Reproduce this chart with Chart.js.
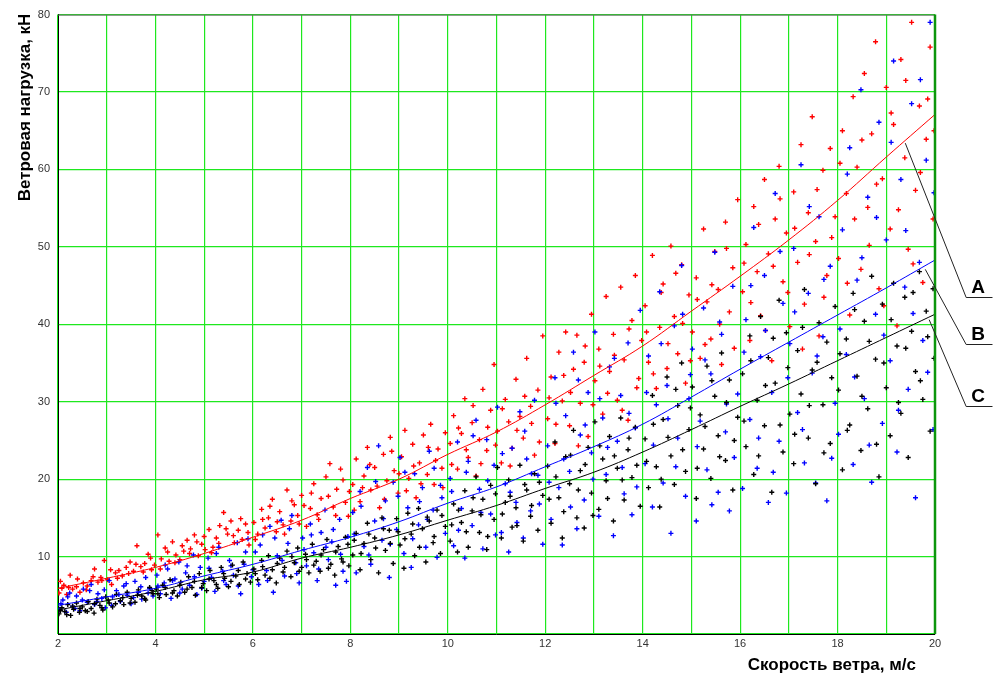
<!DOCTYPE html>
<html>
<head>
<meta charset="utf-8">
<script src="https://cdn.jsdelivr.net/npm/chart.js@4.4.0/dist/chart.umd.min.js"></script>
<style>
  html, body { margin: 0; padding: 0; background: #fff; }
</style>
</head>
<body>
<canvas id="Chart" width="994" height="679"></canvas>
<script>
// axis titles
var xTitle = "Скорость ветра, м/с";
var yTitle = "Ветровая нагрузка, кН";

// fitted curves A, B, C read at every integer wind speed
var curveX = [2,3,4,5,6,7,8,9,10,11,12,13,14,15,16,17,18,19,20];
var curveA = [5.9,7.2,8.6,10.4,12.5,14.7,17.5,20.0,23.2,26.1,29.6,33.4,37.2,41.7,46.2,50.9,56.0,61.6,67.1];
var curveB = [3.7,4.8,5.9,7.5,9.0,10.8,12.5,14.5,16.9,19.0,21.6,24.2,27.1,30.6,34.2,37.7,41.2,44.7,48.3];
var curveC = [3.1,4.3,5.5,7.0,8.0,9.8,11.2,12.8,14.7,16.6,18.8,20.9,23.5,26.4,29.4,32.3,35.3,38.3,41.3];

// measured points [speed, load]
var pointsA = [
  [2.02,5.3],[2.08,5.9],[2.12,6.3],[2.18,5.1],[2.25,7.6],[2.3,5.8],[2.38,6.1],[2.45,5.4],[2.52,6.6],[2.6,6.2],[2.68,6.9],[2.75,8.4],[2.82,6.7],[2.88,7.3],[2.95,9.5],[3.02,7.0],[3.1,6.4],[3.18,7.9],[3.25,8.2],[3.32,7.5],[3.4,8.6],[3.48,9.3],[3.55,8.1],[3.62,11.4],[3.7,8.7],[3.78,9.1],[3.85,10.3],[3.92,8.3],[3.98,8.9],
  [4.05,12.8],[4.12,9.7],[4.2,11.1],[4.28,9.4],[4.35,11.9],[4.42,10.2],[4.5,9.6],[4.58,10.7],[4.65,12.1],[4.72,11.0],[4.8,12.8],[4.88,10.1],[4.95,11.6],[5.02,10.9],[5.1,13.5],[5.18,11.2],[5.25,12.4],[5.32,14.0],[5.4,15.7],[5.48,12.9],[5.55,14.6],[5.62,11.8],[5.7,13.4],[5.78,12.2],[5.85,14.2],[5.92,11.5],
  [6.02,14.4],[6.1,12.9],[6.18,16.1],[6.25,13.7],[6.32,15.0],[6.4,17.4],[6.48,13.2],[6.55,15.8],[6.62,14.1],[6.7,18.6],[6.78,14.6],[6.85,16.7],[6.92,15.3],[7.0,17.9],[7.1,13.9],[7.18,16.2],[7.25,19.4],[7.32,15.4],[7.4,17.5],[7.5,20.3],[7.58,22.0],[7.65,16.4],[7.72,18.7],[7.8,21.3],[7.9,17.0],[7.96,15.2],
  [8.05,19.3],[8.12,22.6],[8.2,17.1],[8.28,20.4],[8.35,24.1],[8.42,18.6],[8.5,21.5],[8.6,16.3],[8.68,23.2],[8.75,19.8],[8.82,25.4],[8.9,21.1],[8.98,18.2],[9.05,22.9],[9.12,26.3],[9.2,20.1],[9.28,24.5],[9.35,17.6],[9.42,22.1],[9.5,25.7],[9.58,20.6],[9.65,27.1],[9.72,19.3],[9.8,23.9],[9.88,21.4],[9.95,26.0],
  [10.05,24.6],[10.12,28.2],[10.2,21.3],[10.28,25.9],[10.35,30.4],[10.42,22.8],[10.5,27.3],[10.58,20.4],[10.65,25.1],[10.72,31.6],[10.8,23.7],[10.88,28.9],[10.95,34.8],[11.02,26.2],[11.1,22.1],[11.18,30.3],[11.25,27.4],[11.32,24.0],[11.4,32.9],[11.48,28.1],[11.55,25.3],[11.62,35.6],[11.7,29.4],[11.78,23.1],[11.85,31.5],[11.95,38.5],
  [12.05,27.8],[12.12,33.2],[12.2,24.6],[12.28,36.4],[12.35,30.1],[12.42,39.0],[12.5,26.9],[12.58,34.2],[12.65,38.6],[12.72,29.8],[12.8,35.1],[12.88,25.5],[12.95,41.3],[13.02,32.7],[13.1,36.8],[13.18,28.4],[13.25,43.6],[13.32,33.9],[13.4,38.7],[13.48,30.2],[13.55,44.8],[13.62,35.4],[13.7,27.6],[13.78,40.5],[13.85,46.3],[13.92,33.0],[13.98,37.9],
  [14.05,42.4],[14.12,35.1],[14.2,48.9],[14.28,31.7],[14.35,39.6],[14.42,45.2],[14.5,34.3],[14.58,50.1],[14.65,41.0],[14.72,36.2],[14.8,47.7],[14.88,32.4],[14.95,43.8],[15.02,39.0],[15.1,46.0],[15.18,35.6],[15.25,52.3],[15.32,42.9],[15.4,38.1],[15.48,49.4],[15.55,44.5],[15.62,34.8],[15.7,53.2],[15.78,41.6],[15.85,47.3],[15.95,56.1],
  [16.05,44.2],[16.12,50.3],[16.2,37.9],[16.28,55.2],[16.35,46.8],[16.42,41.1],[16.5,58.7],[16.58,49.1],[16.65,35.3],[16.72,53.6],[16.8,60.4],[16.88,45.5],[16.95,51.8],[17.02,39.7],[17.1,57.1],[17.18,48.0],[17.25,63.2],[17.32,42.6],[17.4,54.4],[17.48,66.8],[17.55,50.7],[17.62,38.5],[17.7,59.9],[17.78,46.3],[17.85,62.7],[17.95,53.9],
  [18.02,48.5],[18.1,65.0],[18.18,56.9],[18.25,41.2],[18.32,69.4],[18.4,60.3],[18.48,47.1],[18.55,72.4],[18.62,55.1],[18.7,64.6],[18.78,76.5],[18.85,44.6],[18.92,58.8],[19.0,70.6],[19.08,52.3],[19.15,65.8],[19.22,39.8],[19.3,74.2],[19.38,61.5],[19.45,49.7],[19.52,79.0],[19.6,57.3],[19.68,68.2],[19.75,45.4],[19.82,63.9],[19.9,75.8],[19.96,53.6]
];
var pointsA2 = [
  [2.05,6.8],[2.22,6.0],[2.4,7.1],[2.58,5.7],[2.72,7.4],[2.9,6.9],[3.08,8.3],[3.22,7.2],[3.45,7.8],[3.6,9.0],[3.75,8.0],[3.9,9.8],
  [4.1,8.4],[4.25,10.6],[4.4,9.2],[4.55,11.4],[4.7,10.4],[4.85,11.9],[5.0,12.6],[5.15,10.5],[5.3,11.7],[5.45,13.6],[5.6,12.7],[5.75,14.9],[5.9,13.1],
  [6.05,12.2],[6.2,14.8],[6.35,16.5],[6.5,14.5],[6.65,12.9],[6.8,17.2],[6.95,14.2],[7.05,16.6],[7.2,18.2],[7.35,14.8],[7.55,17.8],[7.7,15.3],[7.85,19.9],[7.98,18.4],
  [8.08,16.0],[8.25,18.9],[8.4,21.9],[8.55,19.1],[8.7,17.4],[8.85,23.6],[9.0,20.7],[9.15,18.5],[9.3,21.7],[9.45,19.4],[9.6,24.1],[9.75,22.4],[9.9,18.9],
  [10.08,21.9],[10.22,26.6],[10.38,23.8],[10.52,29.5],[10.68,22.0],[10.82,26.7],[10.98,24.4],[11.12,29.1],[11.28,21.7],[11.42,26.3],[11.58,30.7],[11.72,27.2],[11.88,24.8],
  [12.08,30.5],[12.22,27.1],[12.38,33.4],[12.52,31.2],[12.68,24.3],[12.82,37.2],[12.98,29.6],[13.12,34.6],[13.28,31.1],[13.42,36.0],[13.58,28.9],[13.72,39.4],[13.88,31.8],
  [14.08,39.0],[14.22,33.6],[14.38,44.1],[14.52,37.5],[14.68,46.6],[14.82,40.1],[14.98,35.3],[15.12,43.2],[15.28,37.4],[15.42,45.1],[15.58,40.0],[15.72,49.8],[15.88,36.9],
  [16.08,47.9],[16.22,42.8],[16.38,52.9],[16.52,39.2],[16.68,47.5],[16.82,56.2],[16.98,44.1],[17.12,52.4],[17.28,36.8],[17.42,49.0],[17.58,57.4],[17.72,43.5],[17.88,51.2],
  [18.05,60.8],[18.2,45.3],[18.35,53.6],[18.5,63.8],[18.65,50.2],[18.8,58.1],[18.95,42.4],[19.1,67.3],[19.25,54.8],[19.4,71.5],[19.55,47.8],[19.7,59.6],[19.85,69.1],[19.98,65.0]
];
var pointsB = [
  [2.03,3.2],[2.1,4.4],[2.17,2.8],[2.24,5.3],[2.3,3.6],[2.38,4.9],[2.45,3.0],[2.52,5.8],[2.6,4.1],[2.68,6.4],[2.75,3.8],[2.82,5.2],[2.9,4.6],[2.97,3.4],[3.05,6.9],[3.12,4.8],[3.2,5.6],[3.28,4.2],[3.35,6.2],[3.42,5.0],[3.5,3.9],[3.58,6.8],[3.65,5.4],[3.72,4.5],[3.8,7.3],[3.88,5.9],[3.95,4.9],
  [4.03,7.6],[4.1,5.2],[4.18,6.6],[4.25,8.4],[4.32,4.6],[4.4,7.1],[4.48,9.3],[4.55,5.8],[4.62,7.9],[4.7,6.3],[4.78,10.2],[4.85,5.1],[4.92,8.6],[5.0,6.8],[5.08,9.8],[5.15,7.3],[5.22,5.5],[5.3,11.2],[5.38,8.1],[5.45,6.4],[5.52,9.5],[5.6,7.6],[5.68,11.8],[5.75,5.2],[5.82,9.0],[5.9,12.3],[5.97,7.4],
  [6.05,10.6],[6.12,6.4],[6.2,12.8],[6.28,8.2],[6.35,13.9],[6.42,5.4],[6.5,10.1],[6.58,14.7],[6.65,7.5],[6.72,11.7],[6.8,15.3],[6.88,9.2],[6.95,6.6],[7.02,12.4],[7.1,8.8],[7.18,14.2],[7.25,10.5],[7.32,6.9],[7.4,13.1],[7.48,16.0],[7.55,9.6],[7.62,11.9],[7.7,6.3],[7.78,14.8],[7.85,8.1],[7.95,12.6],
  [8.05,15.7],[8.12,7.9],[8.2,18.4],[8.28,11.3],[8.35,21.5],[8.42,9.0],[8.5,14.6],[8.58,24.3],[8.65,12.1],[8.72,17.2],[8.8,7.3],[8.88,19.6],[8.95,13.5],[9.02,22.8],[9.1,10.4],[9.18,16.3],[9.25,8.6],[9.32,20.7],[9.4,14.1],[9.48,18.9],[9.55,11.2],[9.62,23.6],[9.7,16.0],[9.78,9.9],[9.85,19.2],[9.95,13.0],
  [10.05,20.1],[10.12,11.4],[10.2,24.8],[10.28,16.2],[10.35,9.8],[10.42,22.3],[10.5,14.0],[10.58,27.6],[10.65,18.7],[10.72,11.0],[10.8,25.1],[10.88,15.5],[10.95,21.8],[11.02,29.3],[11.1,13.1],[11.18,19.4],[11.25,10.6],[11.32,24.0],[11.4,17.0],[11.48,28.7],[11.55,12.4],[11.62,22.6],[11.7,15.9],[11.78,30.2],[11.85,20.5],[11.95,11.6],
  [12.05,24.3],[12.12,14.8],[12.2,33.1],[12.28,18.9],[12.35,11.5],[12.42,28.2],[12.5,21.0],[12.58,36.4],[12.65,13.6],[12.72,25.7],[12.8,17.3],[12.88,31.2],[12.95,23.4],[13.02,39.0],[13.1,15.2],[13.18,27.9],[13.25,20.6],[13.32,34.5],[13.4,12.7],[13.48,24.9],[13.55,30.8],[13.62,18.1],[13.7,37.6],[13.78,15.4],[13.85,26.6],[13.95,41.8],
  [14.05,22.0],[14.12,35.9],[14.2,16.4],[14.28,29.6],[14.35,44.2],[14.42,19.5],[14.5,32.1],[14.58,13.0],[14.65,39.8],[14.72,25.3],[14.8,47.6],[14.88,17.8],[14.95,30.4],[15.02,36.8],[15.1,14.6],[15.18,27.5],[15.25,42.1],[15.32,21.2],[15.4,33.6],[15.48,49.3],[15.55,18.3],[15.62,38.7],[15.7,26.1],[15.78,15.9],[15.85,44.9],[15.95,31.0],
  [16.05,18.8],[16.12,40.6],[16.2,27.7],[16.28,52.5],[16.35,21.4],[16.42,35.8],[16.5,46.3],[16.58,17.0],[16.65,31.2],[16.72,56.9],[16.8,24.9],[16.88,42.7],[16.95,18.2],[17.02,37.5],[17.1,49.8],[17.18,28.6],[17.25,60.6],[17.32,22.1],[17.4,44.0],[17.48,33.7],[17.55,19.5],[17.62,53.9],[17.7,38.4],[17.78,17.2],[17.85,47.5],[17.95,29.8],
  [18.02,25.8],[18.1,52.2],[18.18,36.1],[18.25,62.8],[18.32,21.9],[18.4,45.7],[18.48,70.3],[18.55,30.4],[18.62,56.4],[18.7,19.6],[18.78,41.3],[18.85,66.1],[18.92,27.2],[19.0,50.9],[19.08,35.3],[19.15,74.0],[19.22,23.5],[19.3,58.7],[19.38,44.8],[19.45,31.6],[19.52,68.5],[19.6,17.6],[19.68,48.0],[19.75,37.9],[19.82,61.2],[19.9,79.0],[19.96,26.4]
];
var pointsB2 = [
  [2.06,3.9],[2.2,4.8],[2.35,3.3],[2.5,4.4],[2.65,5.6],[2.8,4.2],[2.95,5.7],[3.1,3.7],[3.25,5.1],[3.4,6.5],[3.55,4.7],[3.7,6.1],[3.85,5.3],
  [4.05,6.2],[4.2,8.9],[4.35,6.9],[4.5,5.3],[4.65,8.8],[4.8,7.4],[4.95,5.9],[5.1,8.5],[5.25,10.4],[5.4,6.9],[5.55,8.8],[5.7,6.2],[5.85,10.6],
  [6.0,8.3],[6.15,11.5],[6.3,6.9],[6.45,12.4],[6.6,9.5],[6.75,13.6],[6.9,7.8],[7.05,10.9],[7.2,12.8],[7.35,8.4],[7.5,11.2],[7.65,13.5],[7.8,10.3],[7.92,6.8],
  [8.08,12.9],[8.22,16.5],[8.38,10.2],[8.52,19.7],[8.68,14.9],[8.82,11.6],[8.98,17.8],[9.12,20.9],[9.28,12.3],[9.42,17.1],[9.58,14.8],[9.72,21.4],[9.88,17.6],
  [10.08,18.4],[10.22,13.4],[10.38,20.9],[10.52,25.6],[10.68,15.7],[10.82,19.8],[10.98,12.8],[11.12,23.3],[11.28,18.3],[11.42,14.4],[11.58,26.2],[11.72,20.7],[11.88,16.8],
  [12.08,19.6],[12.22,29.8],[12.38,22.6],[12.52,16.4],[12.68,32.8],[12.82,27.0],[12.98,20.0],[13.12,30.4],[13.28,24.1],[13.42,35.6],[13.58,21.5],[13.72,28.5],[13.88,19.0],
  [14.08,31.2],[14.22,24.4],[14.38,37.5],[14.52,27.8],[14.68,21.6],[14.82,41.3],[14.98,33.5],[15.12,24.2],[15.28,35.4],[15.42,16.7],[15.58,40.3],[15.72,29.7],[15.88,22.8],
  [16.08,36.4],[16.22,45.0],[16.38,25.3],[16.52,39.2],[16.68,20.9],[16.82,49.4],[16.98,33.1],[17.12,41.6],[17.28,26.4],[17.42,55.2],[17.58,35.9],[17.72,45.8],[17.88,22.7],
  [18.05,39.4],[18.2,59.4],[18.35,33.2],[18.5,48.6],[18.65,24.4],[18.8,53.8],[18.95,38.6],[19.1,63.5],[19.25,28.9],[19.4,52.1],[19.55,41.4],[19.7,71.6],[19.85,33.8],[19.98,57.0]
];
var pointsC = [
  [2.02,2.6],[2.08,3.4],[2.14,2.9],[2.2,3.8],[2.26,2.4],[2.32,3.2],[2.38,4.0],[2.44,2.8],[2.5,3.5],[2.56,3.0],[2.62,4.2],[2.68,3.3],[2.74,2.7],[2.8,4.5],[2.86,3.7],[2.92,3.1],[2.98,4.8],[3.05,4.0],[3.12,3.5],[3.2,5.1],[3.28,4.3],[3.35,3.8],[3.42,5.4],[3.5,4.6],[3.58,4.1],[3.65,5.7],[3.72,4.9],[3.8,4.4],[3.88,6.0],[3.95,5.2],
  [4.02,5.8],[4.08,4.7],[4.15,6.3],[4.22,5.1],[4.3,7.0],[4.38,5.6],[4.45,4.9],[4.52,6.7],[4.6,5.4],[4.68,7.4],[4.75,6.0],[4.82,5.0],[4.9,7.8],[4.98,6.5],[5.05,5.6],[5.12,8.2],[5.2,6.9],[5.28,5.9],[5.35,8.6],[5.42,7.2],[5.5,6.1],[5.58,8.9],[5.65,7.5],[5.72,6.4],[5.8,9.3],[5.88,7.8],[5.95,6.7],
  [6.02,8.4],[6.1,7.0],[6.18,9.5],[6.25,7.6],[6.32,10.1],[6.4,8.3],[6.48,6.6],[6.55,9.8],[6.62,8.0],[6.7,10.7],[6.78,7.4],[6.85,9.2],[6.92,11.1],[7.0,8.6],[7.08,10.3],[7.15,7.9],[7.22,11.6],[7.3,9.4],[7.38,8.1],[7.45,10.9],[7.52,12.2],[7.6,9.0],[7.68,7.6],[7.75,11.3],[7.82,9.7],[7.9,12.5],[7.97,8.8],
  [8.05,10.2],[8.12,13.0],[8.2,8.3],[8.28,11.7],[8.35,14.3],[8.42,9.6],[8.5,12.4],[8.58,7.9],[8.65,15.0],[8.72,10.8],[8.8,13.4],[8.88,9.1],[8.95,14.9],[9.02,11.5],[9.1,8.5],[9.18,15.6],[9.25,12.9],[9.32,10.1],[9.4,16.2],[9.48,13.6],[9.55,9.3],[9.62,14.6],[9.7,11.8],[9.78,16.0],[9.85,10.4],[9.95,13.9],
  [10.05,12.0],[10.12,16.8],[10.2,10.6],[10.28,14.4],[10.35,18.5],[10.42,11.2],[10.5,15.9],[10.58,20.3],[10.65,13.1],[10.72,17.4],[10.8,10.9],[10.88,19.2],[10.95,14.8],[11.02,21.5],[11.1,12.4],[11.18,17.0],[11.25,19.9],[11.32,13.8],[11.4,16.3],[11.48,21.8],[11.55,12.0],[11.62,18.6],[11.7,15.2],[11.78,20.7],[11.85,13.4],[11.95,17.9],
  [12.05,21.7],[12.12,14.3],[12.2,24.8],[12.28,17.6],[12.35,12.4],[12.42,22.9],[12.5,19.4],[12.58,26.3],[12.65,15.0],[12.72,21.1],[12.8,13.7],[12.88,24.1],[12.95,18.2],[13.02,27.4],[13.1,16.1],[13.18,22.6],[13.25,19.8],[13.32,25.5],[13.4,14.6],[13.48,21.4],[13.55,27.9],[13.62,17.3],[13.7,23.8],[13.78,20.2],[13.85,26.7],[13.95,16.5],
  [14.05,25.2],[14.12,18.9],[14.2,30.8],[14.28,21.6],[14.35,16.4],[14.42,27.7],[14.5,33.2],[14.58,23.0],[14.65,19.3],[14.72,29.5],[14.8,35.0],[14.88,21.0],[14.95,26.4],[15.02,31.9],[15.1,17.5],[15.18,28.3],[15.25,23.9],[15.32,34.6],[15.4,20.1],[15.48,30.7],[15.55,25.6],[15.62,36.3],[15.7,22.4],[15.78,32.8],[15.85,18.6],[15.95,28.0],
  [16.05,33.6],[16.12,24.2],[16.2,38.5],[16.28,20.6],[16.35,30.2],[16.42,41.0],[16.5,26.9],[16.58,35.7],[16.65,18.3],[16.72,32.4],[16.8,43.1],[16.88,23.5],[16.95,38.9],[17.02,28.4],[17.1,22.0],[17.18,36.6],[17.25,31.0],[17.32,44.5],[17.4,25.3],[17.48,34.1],[17.55,19.4],[17.62,40.2],[17.7,29.6],[17.78,37.7],[17.85,24.6],[17.95,42.3],
  [18.02,31.5],[18.1,21.2],[18.18,38.1],[18.25,27.0],[18.32,44.0],[18.4,33.3],[18.48,23.7],[18.55,40.4],[18.62,29.1],[18.7,46.2],[18.78,35.5],[18.85,20.3],[18.92,42.6],[19.0,31.8],[19.08,25.6],[19.15,45.3],[19.22,37.2],[19.3,28.5],[19.38,43.5],[19.45,22.8],[19.52,39.1],[19.6,33.9],[19.68,46.8],[19.75,30.3],[19.82,41.7],[19.9,26.2],[19.96,44.6]
];
var pointsC2 = [
  [2.05,3.0],[2.18,2.5],[2.3,3.6],[2.45,3.3],[2.6,2.9],[2.75,3.9],[2.9,3.4],[3.03,4.4],[3.18,3.9],[3.33,4.7],[3.48,4.0],[3.63,5.0],[3.78,4.6],[3.93,5.6],
  [4.05,5.2],[4.2,6.0],[4.35,5.3],[4.5,6.3],[4.65,5.8],[4.8,6.8],[4.95,6.0],[5.1,7.1],[5.25,6.4],[5.4,7.8],[5.55,6.8],[5.7,8.2],[5.85,7.1],
  [6.05,7.8],[6.2,8.7],[6.35,7.2],[6.5,9.1],[6.65,8.6],[6.8,10.0],[6.95,8.1],[7.1,9.6],[7.25,8.9],[7.4,10.2],[7.55,8.5],[7.7,10.6],[7.85,9.3],[7.95,11.6],
  [8.08,12.1],[8.22,10.4],[8.38,12.9],[8.52,11.1],[8.68,13.6],[8.82,11.7],[8.98,13.2],[9.12,12.3],[9.28,14.2],[9.42,11.2],[9.58,15.1],[9.72,12.6],[9.88,15.3],
  [10.08,14.1],[10.22,16.0],[10.38,13.2],[10.52,17.6],[10.68,15.4],[10.82,12.6],[10.98,18.1],[11.12,15.5],[11.28,17.8],[11.42,14.0],[11.58,19.3],[11.72,16.6],[11.88,19.6],
  [12.08,17.4],[12.22,20.3],[12.38,15.8],[12.52,23.1],[12.68,18.6],[12.82,21.9],[12.98,15.3],[13.12,24.3],[13.28,17.5],[13.42,23.0],[13.58,19.9],[13.72,25.3],[13.88,21.8],
  [14.08,22.3],[14.22,27.1],[14.38,20.0],[14.52,25.4],[14.68,31.6],[14.82,23.8],[14.98,29.2],[15.12,21.4],[15.28,26.8],[15.42,32.7],[15.58,22.9],[15.72,29.9],[15.88,25.0],
  [16.08,27.5],[16.22,35.3],[16.38,23.0],[16.52,32.1],[16.68,38.2],[16.82,27.0],[16.98,34.4],[17.12,25.8],[17.28,39.6],[17.42,29.5],[17.58,35.1],[17.72,23.4],[17.88,33.1],
  [18.05,36.2],[18.2,26.3],[18.35,41.9],[18.5,30.7],[18.65,37.8],[18.8,24.5],[18.95,35.0],[19.1,40.6],[19.25,29.9],[19.4,36.9],[19.55,44.1],[19.7,32.7],[19.85,38.4],[19.98,35.6]
];

// curve labels: where the leader leaves the curve and where it lands
var labelNames = ["A", "B", "C"];
var labelFromX = [19.39, 19.8, 19.88];
var labelFromY = [63.4, 47.1, 40.6];
var labelToY = [43.5, 37.5, 29.5];
var labelToX = 20.64;
var labelEndX = 21.18;

function toXY(pairs) {
  return pairs.map(function (p) { return { x: p[0], y: p[1] }; });
}
function curve(vals) {
  return curveX.map(function (x, i) { return { x: x, y: vals[i] }; });
}

var gridGreen = "#1ee81e";
var font = '"Liberation Sans", Arial, sans-serif';

var decor = {
  id: "decor",
  afterDraw: function (chart) {
    var ctx = chart.ctx, a = chart.chartArea;
    var xs = chart.scales.x, ys = chart.scales.y;
    ctx.save();
    // top frame
    ctx.strokeStyle = "#666";
    ctx.lineWidth = 1;
    ctx.beginPath();
    ctx.moveTo(a.left, a.top + 0.5);
    ctx.lineTo(a.right, a.top + 0.5);
    ctx.stroke();
    // right frame (dark green)
    ctx.strokeStyle = "#0c960c";
    ctx.lineWidth = 2.5;
    ctx.beginPath();
    ctx.moveTo(a.right, a.top);
    ctx.lineTo(a.right, a.bottom);
    ctx.stroke();

    // leaders + letters
    ctx.strokeStyle = "#222";
    ctx.lineWidth = 1;
    ctx.fillStyle = "#000";
    ctx.font = "bold 19px " + font;
    ctx.textAlign = "center";
    ctx.textBaseline = "alphabetic";
    for (var i = 0; i < labelNames.length; i++) {
      var x0 = xs.getPixelForValue(labelFromX[i]);
      var y0 = ys.getPixelForValue(labelFromY[i]);
      var x1 = xs.getPixelForValue(labelToX);
      var y1 = Math.round(ys.getPixelForValue(labelToY[i])) + 0.5;
      var x2 = xs.getPixelForValue(labelEndX);
      ctx.beginPath();
      ctx.moveTo(x0, y0);
      ctx.lineTo(x1, y1);
      ctx.lineTo(x2, y1);
      ctx.stroke();
      ctx.fillText(labelNames[i], x1 + 12, y1 - 5);
    }

    // axis titles
    ctx.font = "bold 17px " + font;
    ctx.textAlign = "right";
    ctx.fillText(xTitle, a.right - 19, 670);
    ctx.translate(29.5, a.top - 1);
    ctx.rotate(-Math.PI / 2);
    ctx.textAlign = "right";
    ctx.fillText(yTitle, 0, 0);
    ctx.restore();
  }
};

var crossStyle = { pointStyle: "cross", pointRadius: 2.5, borderWidth: 1.4 };

var ctx = document.getElementById("Chart");
var myChart = new Chart(ctx, {
  type: "scatter",
  data: {
    datasets: [
      { type: "line", data: curve(curveA), borderColor: "#ff0000", borderWidth: 1, pointRadius: 0, tension: 0.4, fill: false, order: 0 },
      { type: "line", data: curve(curveB), borderColor: "#0000ff", borderWidth: 1, pointRadius: 0, tension: 0.4, fill: false, order: 0 },
      { type: "line", data: curve(curveC), borderColor: "#000000", borderWidth: 1, pointRadius: 0, tension: 0.4, fill: false, order: 0 },
      Object.assign({ data: toXY(pointsC.concat(pointsC2)), borderColor: "#000000", order: 1 }, crossStyle),
      Object.assign({ data: toXY(pointsB.concat(pointsB2)), borderColor: "#0000ff", order: 2 }, crossStyle),
      Object.assign({ data: toXY(pointsA.concat(pointsA2)), borderColor: "#ff0000", order: 3 }, crossStyle)
    ]
  },
  options: {
    responsive: false,
    animation: false,
    devicePixelRatio: 1,
    layout: { padding: { top: 14, right: 59, left: 0, bottom: 0 } },
    plugins: { legend: { display: false }, tooltip: { enabled: false } },
    scales: {
      x: {
        type: "linear",
        min: 2,
        max: 20,
        afterFit: function (s) { s.height = 45; },
        ticks: {
          stepSize: 1,
          autoSkip: false,
          maxRotation: 0,
          padding: 3,
          color: "#333",
          font: { family: font, size: 11 },
          callback: function (v) { return v % 2 === 0 ? v : ""; }
        },
        grid: { color: gridGreen, lineWidth: 1.2, drawTicks: false },
        border: { color: "#000", width: 1 }
      },
      y: {
        min: 0,
        max: 80,
        afterFit: function (s) { s.width = 58; },
        ticks: {
          stepSize: 10,
          padding: 8,
          color: "#333",
          font: { family: font, size: 11 },
          callback: function (v) { return v === 0 ? "" : v; }
        },
        grid: { color: gridGreen, lineWidth: 1.2, drawTicks: false },
        border: { color: "#000", width: 1 }
      }
    }
  },
  plugins: [decor]
});
</script>
</body>
</html>
